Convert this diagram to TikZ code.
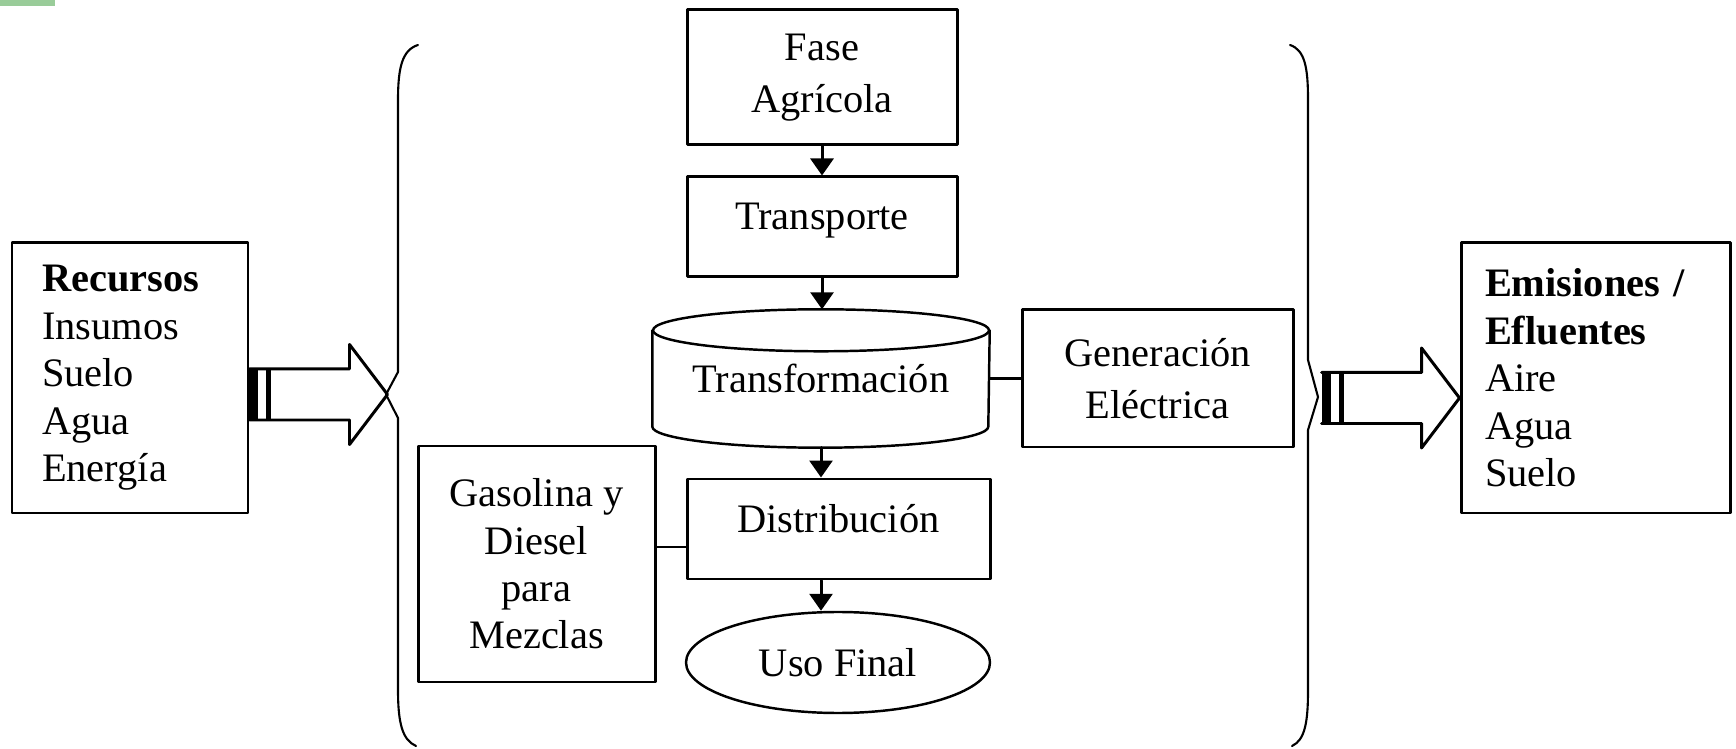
\documentclass[tikz,border=0pt]{standalone}
\usepackage{fontspec}
\setmainfont{Liberation Serif}
\usepackage{tikz}
\usetikzlibrary{positioning}
\usetikzlibrary{shapes}
\usetikzlibrary{calc}
\usetikzlibrary{arrows.meta}
\definecolor{verdeclaro}{RGB}{153,204,153}

\begin{document}
\begin{tikzpicture}[line cap=round,line join=round,>={Triangle[width=0.23cm,length=0.17cm]},
  font=\fontsize{11.5}{13.5}\selectfont,
  caja/.style={draw,line width=0.85pt,inner sep=0pt,align=center},
  lateral/.style={draw,line width=0.85pt,inner ysep=0pt,align=left,minimum height=2.70cm},
  unalinea/.style={text depth=0.22cm},
  doslineas/.style={font=\fontsize{11.5}{14.8}\selectfont},
  conector/.style={line width=0.85pt},
  llave/.style={line width=0.6pt}]
\useasboundingbox (0,0) rectangle (17.36,7.48);
\fill[verdeclaro] (0,7.42) rectangle (0.55,7.48);

% bloques laterales
\node[lateral,inner xsep=0.30cm,text width=1.76cm] (recursos) at (1.30,3.70) {\textbf{Recursos}\\Insumos\\Suelo\\Agua\\Energía};
\node[lateral,inner xsep=0.24cm,text width=2.21cm] (emisiones) at (15.955,3.70) {\textbf{Emisiones /}\\\textbf{Efluentes}\\Aire\\Agua\\Suelo};

% cadena central
\node[caja,doslineas,minimum width=2.70cm,minimum height=1.35cm] (fase) at (8.22,6.705) {Fase\\Agrícola};
\node[caja,unalinea,minimum width=2.70cm,minimum height=1.00cm] (transporte) at (8.22,5.21) {Transporte};
\node[inner sep=0pt,minimum width=3.36cm,minimum height=1.37cm] (transf) at (8.21,3.695) {Transformación};
\node[caja,doslineas,minimum width=2.71cm,minimum height=1.37cm] (generacion) at (11.575,3.695) {Generación\\Eléctrica};
\node[caja,minimum width=2.37cm,minimum height=2.36cm] (gasolina) at (5.365,1.84) {Gasolina y\\Diesel\\para\\Mezclas};
\node[caja,unalinea,minimum width=3.03cm,minimum height=1.00cm] (distribucion) at (8.385,2.19) {Distribución};
\node[draw,ellipse,line width=0.7pt,inner sep=0pt,minimum width=3.04cm,minimum height=1.01cm] (uso) at (8.38,0.855) {Uso Final};

% cilindro
\draw[line width=0.7pt] ([yshift=-0.21cm]transf.north west) -- ([yshift=0.21cm]transf.south west) arc[start angle=180,end angle=360,x radius=1.68cm,y radius=0.21cm] -- ([yshift=-0.21cm]transf.north east);
\draw[line width=0.7pt] ([yshift=-0.21cm]transf.north) ellipse[x radius=1.68cm,y radius=0.21cm];

\draw[conector,->] (fase.south) -- (transporte.north);
\draw[conector,->] (transporte.south) -- (transporte.south |- transf.north);
\draw[conector,->] (transf.south) -- (transf.south |- distribucion.north);
\draw[conector,->] (transf.south |- distribucion.south) -- (transf.south |- uso.north);
\draw[conector] (transf.east) -- (generacion.west);
\coordinate (union) at ([yshift=-0.18cm]distribucion.west);
\draw[conector] (union) -- (gasolina.east |- union);

% flechas anchas
\coordinate (fl1) at ([yshift=-0.165cm]recursos.east);
\coordinate (fl2) at ([xshift=-1.38cm,yshift=-0.20cm]emisiones.west);
\foreach \f in {fl1,fl2}{
  \draw[conector] ([yshift=0.255cm]\f) -- ++(1.00,0) -- ++(0,0.245) -- ++(0.38,-0.50) -- ++(-0.38,-0.50) -- ++(0,0.245) -- ++(-1.00,0);
  \fill ([yshift=-0.255cm]\f) rectangle ++(0.09,0.51);
  \fill ([xshift=0.17cm,yshift=-0.255cm]\f) rectangle ++(0.05,0.51);
}

% llaves
\draw[llave] (4.18,7.03) .. controls (4.02,6.98) and (3.98,6.80) .. (3.98,6.48) -- (3.98,3.76) -- (3.86,3.535) -- (3.98,3.30) -- (3.98,0.58) .. controls (3.98,0.26) and (4.02,0.08) .. (4.16,0.02);
\draw[llave] (12.90,7.03) .. controls (13.05,6.98) and (13.08,6.80) .. (13.08,6.48) -- (13.08,3.88) -- (13.18,3.51) -- (13.08,3.18) -- (13.08,0.58) .. controls (13.08,0.26) and (13.05,0.08) .. (12.92,0.02);
\end{tikzpicture}
\end{document}
